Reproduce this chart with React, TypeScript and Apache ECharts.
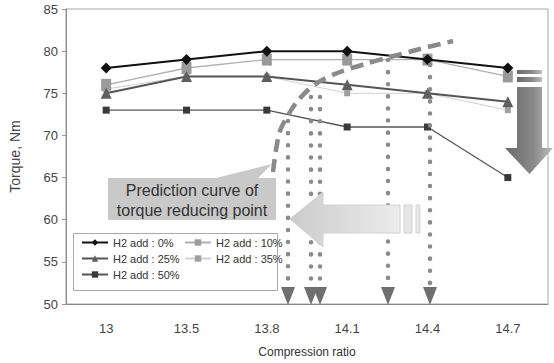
import React, { useEffect, useRef } from "react";
import * as echarts from "echarts";

// Compression ratios on the x axis
const ratios = ["13", "13.5", "13.8", "14.1", "14.4", "14.7"];

// Torque (Nm) for each hydrogen addition rate
const torqueH2_0 = [78, 79, 80, 80, 79, 78];
const torqueH2_10 = [76, 78, 79, 79, 79, 77];
const torqueH2_25 = [75, 77, 77, 76, 75, 74];
const torqueH2_35 = [75.5, 77, 77, 75, 75, 73];
const torqueH2_50 = [73, 73, 73, 71, 71, 65];

// Y axis range
const yMin = 50;
const yMax = 85;
const yStep = 5;

const seriesNames = [
  "H2 add : 0%",
  "H2 add : 10%",
  "H2 add : 25%",
  "H2 add : 35%",
  "H2 add : 50%",
];

const FONT = "'Liberation Sans', Arial, sans-serif";

export default function App() {
  const ref = useRef<HTMLDivElement>(null);

  useEffect(() => {
    if (!ref.current) return;
    const chart = echarts.init(ref.current, undefined, { renderer: "svg" });

    const dotStyle = {
      stroke: "#8a8a8a",
      lineWidth: 4.5,
      lineDash: [0.1, 12],
      lineCap: "round",
    };
    // dotted drop lines: [x, top]
    const drops: [number, number][] = [
      [288, 121],
      [311, 97],
      [320, 97],
      [388, 60],
      [430, 65],
    ];
    const dropBottom = 283;

    const dropGraphics: any[] = [];
    drops.forEach(([x, top]) => {
      dropGraphics.push({
        type: "line",
        shape: { x1: x, y1: top, x2: x, y2: dropBottom },
        style: dotStyle,
        z: 12,
      });
      dropGraphics.push({
        type: "polygon",
        shape: {
          points: [
            [x - 7, 287],
            [x + 7, 287],
            [x, 305],
          ],
        },
        style: { fill: "#6f6f6f" },
        z: 12,
      });
    });

    const darkGrad = new echarts.graphic.LinearGradient(0, 0, 1, 0, [
      { offset: 0, color: "#6a6a6a" },
      { offset: 0.6, color: "#8a8a8a" },
      { offset: 1, color: "#bdbdbd" },
    ]);
    const lightGrad = new echarts.graphic.LinearGradient(0, 0, 1, 0, [
      { offset: 0, color: "#cbcbcb" },
      { offset: 1, color: "#ececec" },
    ]);

    chart.setOption({
      animation: false,
      backgroundColor: "#ffffff",
      textStyle: { fontFamily: FONT },
      grid: {
        left: 63,
        right: 6,
        top: 9,
        bottom: 56,
        show: true,
        borderColor: "#a8a8a8",
        borderWidth: 1,
      },
      legend: [
        {
          data: [seriesNames[0], seriesNames[2], seriesNames[4]],
          orient: "vertical",
          left: 81,
          top: 237,
          padding: 0,
          itemGap: 5,
          itemWidth: 26,
          itemHeight: 8,
          textStyle: { fontSize: 11, color: "#333", fontFamily: FONT },
        },
        {
          data: [seriesNames[1], seriesNames[3]],
          orient: "vertical",
          left: 184,
          top: 237,
          padding: 0,
          itemGap: 5,
          itemWidth: 26,
          itemHeight: 8,
          textStyle: { fontSize: 11, color: "#333", fontFamily: FONT },
        },
      ],
      xAxis: {
        type: "category",
        data: ratios,
        boundaryGap: true,
        name: "Compression ratio",
        nameLocation: "middle",
        nameGap: 42,
        nameTextStyle: { fontSize: 12, color: "#333", fontFamily: FONT },
        axisLine: { lineStyle: { color: "#888", width: 1 } },
        axisTick: { inside: true, length: 5, lineStyle: { color: "#999" } },
        axisLabel: { fontSize: 13, color: "#444", margin: 18, fontFamily: FONT },
        splitLine: { show: false },
      },
      yAxis: {
        type: "value",
        min: yMin,
        max: yMax,
        interval: yStep,
        name: "Torque, Nm",
        nameLocation: "middle",
        nameGap: 44,
        nameTextStyle: { fontSize: 14, color: "#444", fontFamily: FONT },
        axisLine: { show: true, lineStyle: { color: "#888", width: 1 } },
        axisTick: { show: true, length: 4, lineStyle: { color: "#999" } },
        axisLabel: { fontSize: 13, color: "#444", margin: 8, fontFamily: FONT },
        splitLine: { show: false },
      },
      series: [
        {
          name: seriesNames[0],
          type: "line",
          data: torqueH2_0,
          symbol: "diamond",
          symbolSize: 11,
          itemStyle: { color: "#111" },
          lineStyle: { color: "#111", width: 2 },
          z: 6,
        },
        {
          name: seriesNames[1],
          type: "line",
          data: torqueH2_10,
          symbol: "rect",
          symbolSize: [10, 12],
          itemStyle: { color: "#9a9a9a" },
          lineStyle: { color: "#b0b0b0", width: 1.3 },
          z: 3,
        },
        {
          name: seriesNames[2],
          type: "line",
          data: torqueH2_25,
          symbol: "triangle",
          symbolSize: 11,
          itemStyle: { color: "#5e5e5e" },
          lineStyle: { color: "#555", width: 2 },
          z: 5,
        },
        {
          name: seriesNames[3],
          type: "line",
          data: torqueH2_35,
          symbol: "rect",
          symbolSize: 6,
          itemStyle: { color: "#a0a0a0" },
          lineStyle: { color: "#d0d0d0", width: 1 },
          z: 2,
        },
        {
          name: seriesNames[4],
          type: "line",
          data: torqueH2_50,
          symbol: "rect",
          symbolSize: 7,
          itemStyle: { color: "#3a3a3a" },
          lineStyle: { color: "#555", width: 1.3 },
          z: 4,
        },
      ],
      graphic: [
        // legend frame
        {
          type: "rect",
          shape: { x: 73.5, y: 233.5, width: 204, height: 57 },
          style: { fill: "#fff", stroke: "#aaa", lineWidth: 1 },
          z: 3,
        },
        // callout
        {
          type: "polygon",
          shape: {
            points: [
              [212, 179],
              [272, 164],
              [257, 179],
            ],
          },
          style: { fill: "#c9c9c9" },
          z: 10,
        },
        {
          type: "rect",
          shape: { x: 108, y: 178, width: 168, height: 42 },
          style: { fill: "#c9c9c9" },
          z: 10,
        },
        {
          type: "text",
          x: 192,
          y: 200,
          style: {
            text: "Prediction curve of\ntorque reducing point",
            fontSize: 16,
            lineHeight: 20,
            fill: "#333",
            align: "center",
            verticalAlign: "middle",
            fontFamily: FONT,
          },
          z: 11,
        },
        // prediction curve
        {
          type: "polyline",
          shape: {
            points: [
              [273, 172],
              [276, 150],
              [280, 131],
              [287, 117],
              [296, 103],
              [308, 90],
              [322, 80],
              [340, 72],
              [365, 64],
              [390, 57],
              [420, 49],
              [453, 41],
            ],
            smooth: 0.3,
          },
          style: { stroke: "#8a8a8a", lineWidth: 4.5, lineDash: [13, 7], fill: null },
          z: 12,
        },
        ...dropGraphics,
        // leftward arrow
        {
          type: "polygon",
          shape: {
            points: [
              [290, 219],
              [323, 192],
              [323, 205],
              [400, 205],
              [400, 233],
              [323, 233],
              [323, 247],
            ],
          },
          style: { fill: lightGrad, stroke: "#d2d2d2", lineWidth: 1 },
          z: 13,
        },
        {
          type: "rect",
          shape: { x: 404, y: 205, width: 8, height: 28 },
          style: { fill: "#e6e6e6", stroke: "#d2d2d2", lineWidth: 1 },
          z: 13,
        },
        {
          type: "rect",
          shape: { x: 416, y: 205, width: 4, height: 28 },
          style: { fill: "#e8e8e8", stroke: "#d2d2d2", lineWidth: 1 },
          z: 13,
        },
        // downward arrow
        {
          type: "rect",
          shape: { x: 517, y: 70, width: 25, height: 4 },
          style: { fill: darkGrad },
          z: 13,
        },
        {
          type: "rect",
          shape: { x: 517, y: 77, width: 25, height: 5 },
          style: { fill: darkGrad },
          z: 13,
        },
        {
          type: "polygon",
          shape: {
            points: [
              [517, 87],
              [542, 87],
              [542, 148],
              [553, 148],
              [529.5, 174],
              [505, 148],
              [517, 148],
            ],
          },
          style: { fill: darkGrad },
          z: 13,
        },
      ],
    });

    return () => chart.dispose();
  }, []);

  return (
    <div
      ref={ref}
      style={{ position: "fixed", left: 0, top: 0, width: 554, height: 363 }}
    />
  );
}
